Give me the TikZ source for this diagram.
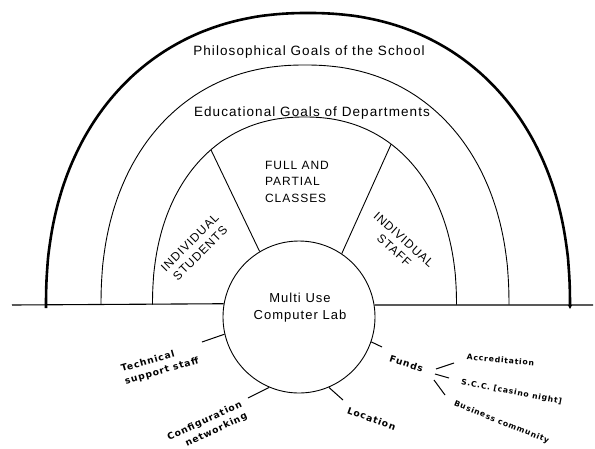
\documentclass[tikz,border=0pt]{standalone}
\usepackage{fontspec}
\setmainfont{Liberation Sans}
\newfontfamily\capfont{Liberation Sans}[LetterSpace=8]
\newfontfamily\sidefont{DejaVu Sans}[LetterSpace=10]
\usetikzlibrary{arrows.meta}
\begin{document}
\begin{tikzpicture}[x=1pt,y=-1pt,line width=0.9pt,
  toplabel/.style={font=\capfont\fontsize{13.5}{16}\selectfont,inner sep=0pt},
  seglabel/.style={font=\capfont\fontsize{12}{14.5}\selectfont,align=center,inner sep=0pt},
  fulllabel/.style={font=\capfont\fontsize{12}{16.5}\selectfont,align=left,inner sep=0pt},
  labtext/.style={font=\capfont\fontsize{13}{17}\selectfont,align=center,inner sep=0pt},
  sidelabel/.style={font=\sidefont\bfseries\fontsize{9.2}{13}\selectfont,inner sep=0pt},
  smalllabel/.style={font=\sidefont\bfseries\fontsize{7.7}{10}\selectfont,inner sep=0pt},
  outerring/.style={line width=2.6pt},
  ring/.style={line width=0.9pt},
  spoke/.style={line width=1pt},
]
\useasboundingbox (0,0) rectangle (595,448);

% central circle
\node[draw,circle,minimum size=152pt,inner sep=0pt,line width=0.9pt] (lab) at (299,317) {};
\node[labtext] (labt) at (300,307.5) {Multi Use\\Computer Lab};

% rings
\draw[outerring,-{Triangle[length=4pt,width=4pt]}] (46,308) --
  plot[domain=179.95:0.05,samples=120,smooth]
  ({308+262*sign(cos(\x))*pow(abs(cos(\x)),0.909)},{305-292*pow(sin(\x),0.909)})
  -- (570,309);
\draw[ring] plot[domain=0.05:179.95,samples=120,smooth]
  ({305+204*sign(cos(\x))*pow(abs(cos(\x)),0.909)},{305-240*pow(sin(\x),0.909)});
\draw[ring] plot[domain=0.05:179.95,samples=120,smooth]
  ({304.5+152*sign(cos(\x))*pow(abs(cos(\x)),0.909)},{305-188*pow(sin(\x),0.909)});

% radial separators
\coordinate (tl) at ({304.5-152*pow(cos(54.1),0.909)},{305-188*pow(sin(54.1),0.909)});
\coordinate (tr) at ({304.5+152*pow(cos(57.4),0.909)},{305-188*pow(sin(57.4),0.909)});
\draw[ring] (tl) -- (lab.121.5);
\draw[ring] (tr) -- (lab.56.5);

% base line
\coordinate (bl) at (12,305);
\coordinate (br) at (593,305);
\draw[line width=1.1pt] (bl) -- (lab.170.9);
\draw[line width=1.1pt] (lab.9.1) -- (br);

% ring labels
\node[toplabel] (phil) at (309,52) {Philosophical Goals of the School};
\node[toplabel] (edu) at (312,113) {Educational Goals of Departments};
\node[fulllabel] (full) at (297,181.5) {FULL AND\\PARTIAL\\CLASSES};
\node[seglabel,rotate=45] (stud) at (195,248) {INDIVIDUAL\\STUDENTS};
\node[seglabel,rotate=-42] (staff) at (399,245) {INDIVIDUAL\\STAFF};

% spokes
\coordinate (techend) at (202,342);
\coordinate (confend) at (248,398);
\coordinate (locend) at (343,400);
\coordinate (fundend) at (382,347);
\draw[spoke] (lab.-167.2) -- (techend);
\draw[spoke] (lab.-113.7) -- (confend);
\draw[spoke] (lab.-67.8) -- (locend);
\draw[spoke] (lab.-19.9) -- (fundend);

\node[sidelabel,rotate=16,align=left] (techl) at (160,365) {Technical\\support staff};
\node[sidelabel,rotate=25,align=right] (confl) at (207.5,427) {Configuration\\networking};
\node[sidelabel,rotate=-20] (locl) at (371.5,418.5) {Location};
\node[sidelabel,rotate=-18] (fundl) at (406.5,363.5) {Funds};

% funds branches
\coordinate (fa1) at (436,369); \coordinate (fa2) at (454,363);
\coordinate (fs1) at (435,374); \coordinate (fs2) at (449,378);
\coordinate (fb1) at (434,380); \coordinate (fb2) at (445,395);
\draw[spoke] (fa1) -- (fa2);
\draw[spoke] (fs1) -- (fs2);
\draw[spoke] (fb1) -- (fb2);

\node[smalllabel,rotate=-5] (accl) at (500.5,360) {Accreditation};
\node[smalllabel,rotate=-11] (sccl) at (511.5,392) {S.C.C. [casino night]};
\node[smalllabel,rotate=-22] (busl) at (501.5,422.5) {Business community};
\end{tikzpicture}
\end{document}
